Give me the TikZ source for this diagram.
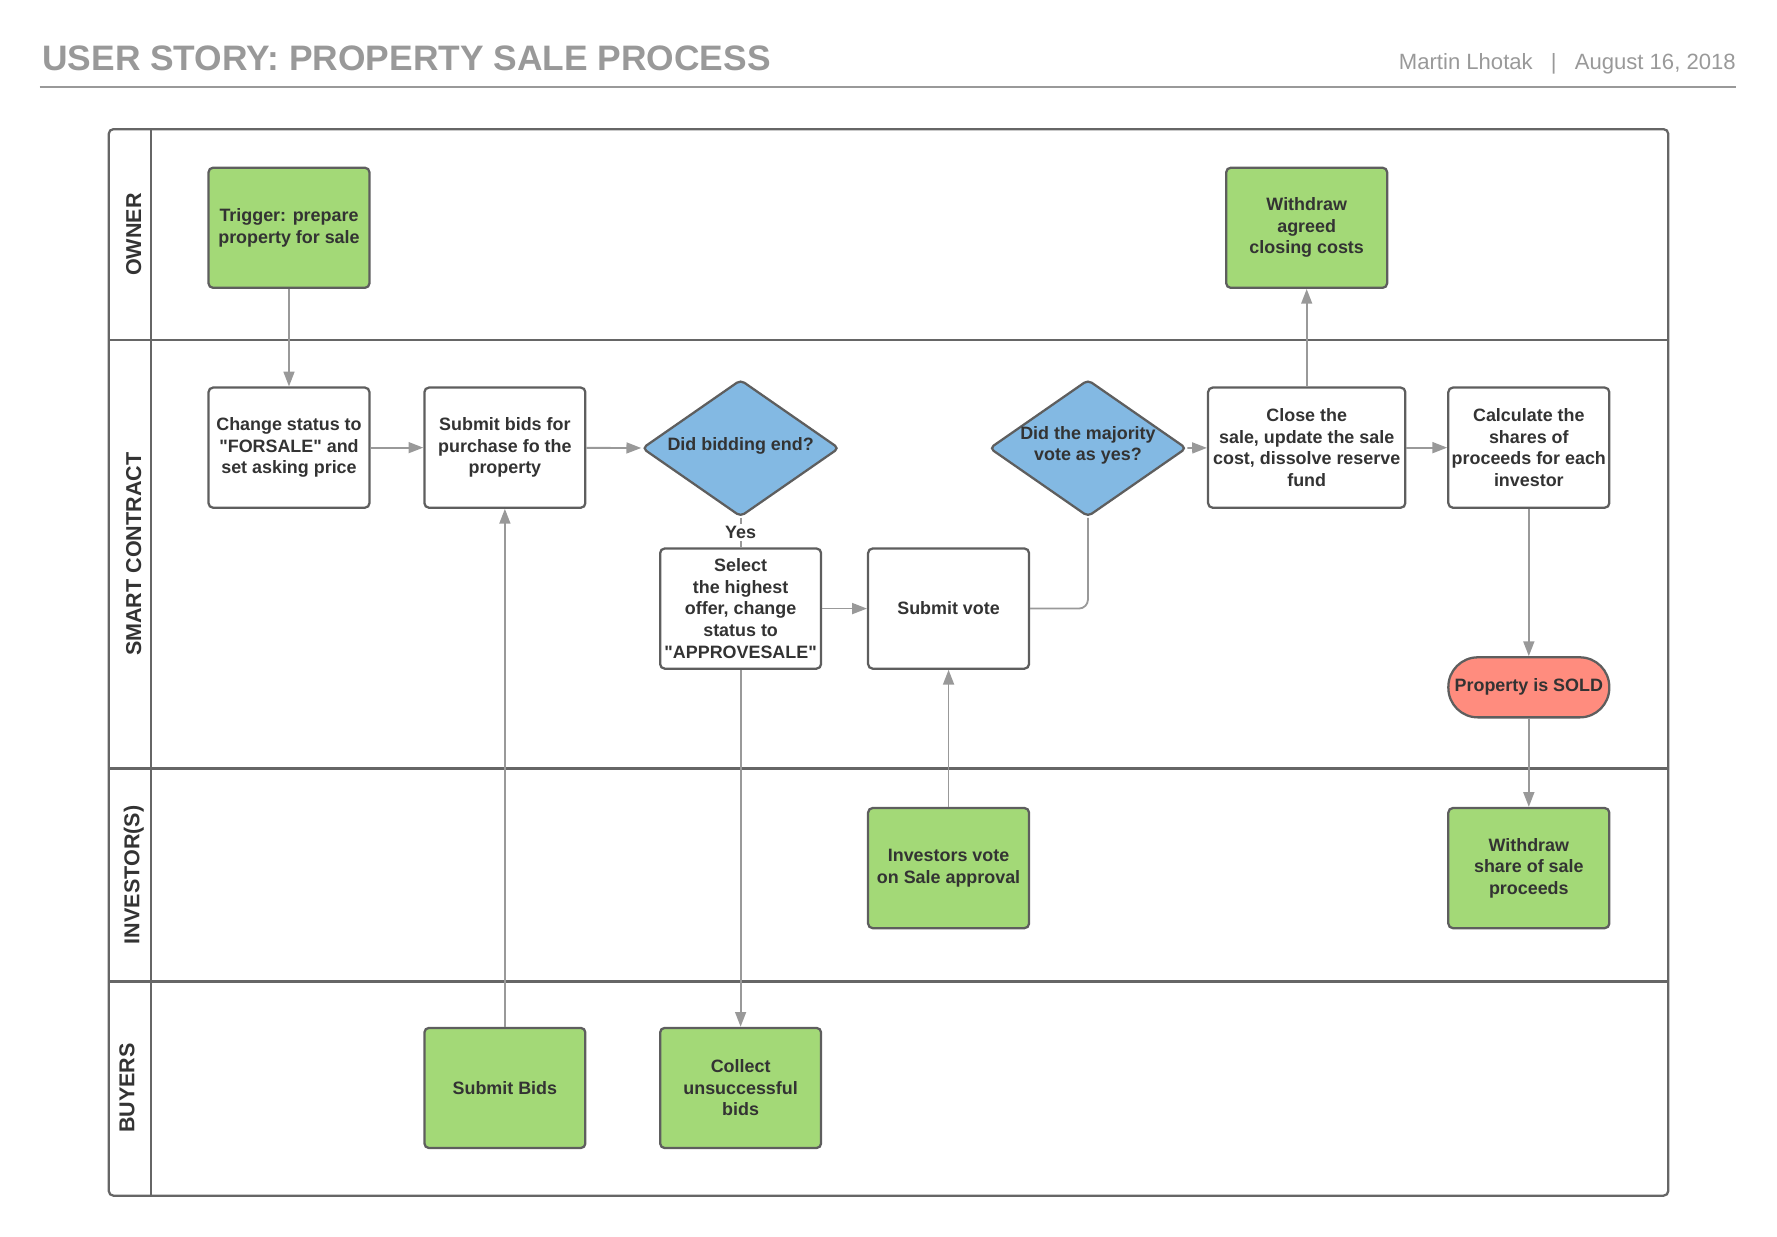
\documentclass[tikz,border=0pt]{standalone}
\usepackage{fontspec}
\setmainfont{Liberation Sans}[Ligatures=TeXOff]
\usetikzlibrary{arrows.meta,shapes.geometric}
\definecolor{gfill}{HTML}{A3D977}
\definecolor{bfill}{HTML}{83B9E3}
\definecolor{rfill}{HTML}{FF8C7E}
\definecolor{bordc}{HTML}{5E5E5E}
\definecolor{poolc}{HTML}{666666}
\definecolor{linec}{HTML}{999999}
\definecolor{txtc}{HTML}{333333}
\definecolor{headc}{HTML}{999999}
\newcommand\bxfont{\fontsize{7.9}{9.5}\selectfont\bfseries}
\newcommand\lanefont{\fontsize{9.5}{11}\selectfont\bfseries}
\begin{document}
\begin{tikzpicture}[x=0.5pt,y=-0.5pt,
  box/.style={draw=bordc, line width=1pt, rounded corners=2pt, minimum width=71pt,
    minimum height=53pt, inner sep=0.5pt, align=center, font=\bxfont, text=txtc},
  gbox/.style={box, fill=gfill},
  wbox/.style={box, fill=white},
  dia/.style={diamond, draw=bordc, fill=bfill, line width=1pt, minimum width=87pt,
    minimum height=60.5pt, inner sep=0pt, rounded corners=2pt},
  dtext/.style={align=center, font=\bxfont, text=txtc, inner sep=0pt},
  pool/.style={draw=poolc, line width=1pt},
  lane/.style={rotate=90, font=\lanefont, text=txtc, inner sep=0pt},
  arr/.style={draw=linec, line width=0.8pt, -{Triangle[length=6.5pt,width=4.8pt]}},
  ln/.style={draw=linec, line width=0.8pt}]
\useasboundingbox (0,0) rectangle (1568,1091);

% header
\node[anchor=base west, inner sep=0pt, text=headc, font=\fontsize{15.6}{17}\selectfont\bfseries] (title) at (37,62) {USER STORY: PROPERTY SALE PROCESS};
\node[anchor=base east, inner sep=0pt, text=headc, font=\fontsize{9.75}{11}\selectfont] (meta) at (1532,61) {Martin Lhotak\hspace{8pt}|\hspace{8pt}August 16, 2018};
\draw[draw=headc, line width=1pt] (35,77) -- (1532,77);

% pool
\draw[pool, rounded corners=2pt] (96,114) rectangle (1472,1055);
\draw[pool] (133,114) -- (133,1055);
\draw[pool] (96,300) -- (1472,300);
\draw[pool] (96,678) -- (1472,678);
\draw[pool] (96,866) -- (1472,866);

\node[lane] (lo) at (118,207) {OWNER};
\node[lane] (lsc) at (118,489) {SMART CONTRACT};
\node[lane] (li) at (118,772) {INVESTOR(S)};
\node[lane] (lb) at (112,960) {BUYERS};

% nodes
\node[gbox] (trig) at (255,201) {Trigger: prepare\\property for sale};
\node[gbox] (wac) at (1153,201) {Withdraw\\agreed\\closing costs};
\node[wbox] (chg) at (255,395) {Change status to\\"FORSALE" and\\set asking price};
\node[wbox] (sbp) at (445.5,395) {Submit bids for\\purchase fo the\\property};
\node[dia] (d1) at (653.5,395.5) {};
\node[dtext] (d1t) at (653.5,393.5) {Did bidding end?};
\node[dia] (d2) at (960,395.5) {};
\node[dtext] (d2t) at (960,393) {Did the majority\\vote as yes?};
\node[wbox, minimum width=87pt] (cls) at (1153,395) {Close the\\sale, update the sale\\cost, dissolve reserve\\fund};
\node[wbox] (calc) at (1349,395) {Calculate the\\shares of\\proceeds for each\\investor};
\node[wbox] (sel) at (653.5,537) {Select\\the highest\\offer, change\\status to\\"APPROVESALE"};
\node[wbox] (sv) at (837,537) {Submit vote};
\node[box, fill=rfill, minimum height=26.5pt, rounded corners=13pt] (sold) at (1349,606.5) {Property is SOLD};
\node[gbox] (inv) at (837,766) {Investors vote\\on Sale approval};
\node[gbox] (wsp) at (1349,766) {Withdraw\\share of sale\\proceeds};
\node[gbox] (sb) at (445.5,960) {Submit Bids};
\node[gbox] (col) at (653.5,960) {Collect\\unsuccessful\\bids};

% connectors
\draw[arr] (trig) -- (chg);
\draw[arr] (chg) -- (sbp);
\draw[arr] (sbp) -- (d1);
\draw[ln] (d1.south) -- node[fill=white, inner sep=1pt, font=\bxfont, text=txtc] (yes) {Yes} (sel.north);
\draw[arr] (sel) -- (sv);
\draw[ln, rounded corners=4pt] (sv.east) -| (d2.south);
\draw[arr] (d2) -- (cls);
\draw[arr] (cls) -- (wac);
\draw[arr] (cls) -- (calc);
\draw[arr] (calc) -- (sold);
\draw[arr] (sold) -- (wsp);
\draw[arr] (inv) -- (sv);
\draw[arr] (sb) -- (sbp);
\draw[arr] (sel) -- (col);
\end{tikzpicture}
\end{document}
